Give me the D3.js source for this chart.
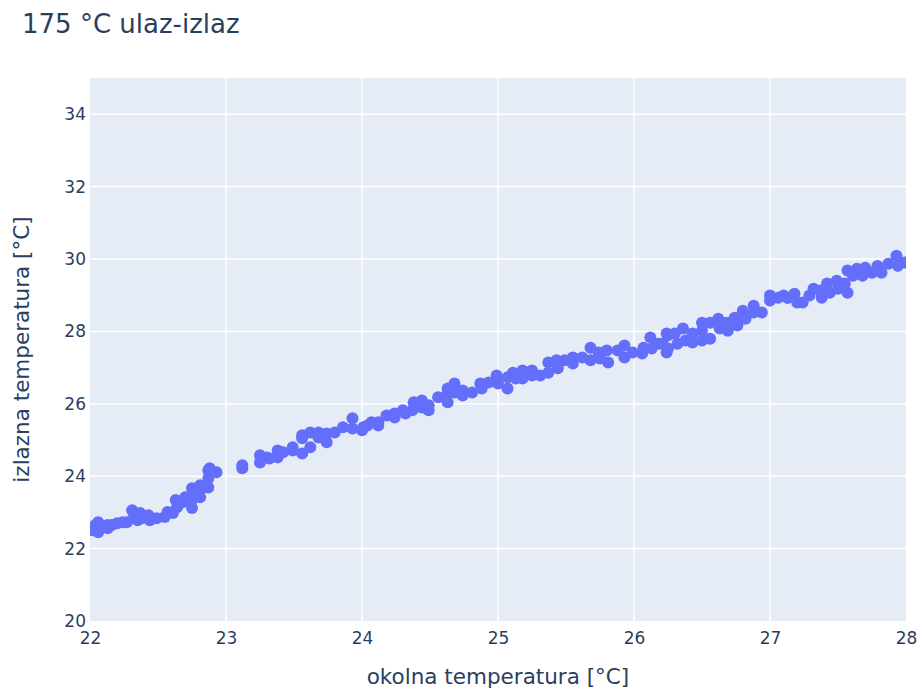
<!DOCTYPE html>
<html>
<head>
  <meta charset="utf-8">
  <script src="https://cdn.jsdelivr.net/npm/d3@7"></script>
  <style>
    body { margin: 0; background: #fff; }
    text { font-family: "DejaVu Sans", verdana, arial, sans-serif; fill: #2a3f5f; }
  </style>
</head>
<body>
<script>
  // okolna temperatura [°C]
  var tOkolna = [
    22.00, 22.02, 22.04, 22.06, 22.06, 22.10, 22.13, 22.13, 22.16, 22.20, 22.24, 22.27,
    22.31, 22.32, 22.35, 22.37, 22.38, 22.40, 22.43, 22.44, 22.49, 22.55, 22.57, 22.61,
    22.63, 22.64, 22.68, 22.70, 22.75, 22.75, 22.75, 22.77, 22.81, 22.81, 22.81, 22.87,
    22.87, 22.87, 22.88, 22.93,
    23.12, 23.12, 23.25, 23.25, 23.30, 23.32, 23.38, 23.38, 23.42, 23.49, 23.49, 23.56,
    23.56, 23.56, 23.62, 23.62, 23.68, 23.68, 23.74, 23.74, 23.80, 23.86, 23.93, 23.93,
    24.00, 24.01, 24.04, 24.07, 24.12,
    24.12, 24.18, 24.24, 24.24, 24.30, 24.32, 24.37, 24.38, 24.44, 24.44, 24.49, 24.49,
    24.56, 24.63, 24.63, 24.63, 24.68, 24.68, 24.74, 24.74, 24.81, 24.87, 24.88, 24.93,
    24.99, 25.00, 25.07, 25.07, 25.11, 25.13, 25.18,
    25.18, 25.18, 25.25, 25.25, 25.31, 25.37, 25.37, 25.43, 25.44, 25.49, 25.55, 25.55,
    25.62, 25.68, 25.68, 25.74, 25.75, 25.80, 25.81, 25.88, 25.93, 25.93, 25.99, 26.06,
    26.07, 26.12, 26.13, 26.18, 26.24, 26.24,
    26.21, 26.25, 26.25, 26.30, 26.32, 26.36, 26.38, 26.43, 26.43, 26.50, 26.50, 26.50,
    26.56, 26.56, 26.62, 26.63, 26.68, 26.69, 26.74, 26.76, 26.80, 26.82, 26.88, 26.88,
    26.94, 27.00, 27.00, 27.06, 27.13,
    27.10, 27.13, 27.18, 27.20, 27.24, 27.29, 27.32, 27.37, 27.38, 27.42, 27.44, 27.49,
    27.50, 27.55, 27.57, 27.57, 27.61, 27.64, 27.68, 27.70, 27.75, 27.79, 27.82, 27.87,
    27.93, 27.94, 27.99
  ];
  // izlazna temperatura [°C]
  var tIzlazna = [
    22.55, 22.51, 22.65, 22.73, 22.45, 22.59, 22.65, 22.56, 22.65, 22.70, 22.73, 22.73,
    23.06, 22.84, 22.78, 22.98, 22.84, 22.87, 22.92, 22.78, 22.84, 22.87, 23.01, 22.98,
    23.34, 23.14, 23.28, 23.42, 23.12, 23.34, 23.67, 23.53, 23.61, 23.42, 23.75, 23.69,
    23.94, 24.16, 24.22, 24.11,
    24.30, 24.22, 24.58, 24.38, 24.52, 24.49, 24.71, 24.52, 24.66, 24.71, 24.80, 25.13,
    25.05, 24.63, 25.21, 24.80, 25.21, 25.07, 25.18, 24.94, 25.21, 25.35, 25.60, 25.32,
    25.27, 25.35, 25.40, 25.49, 25.49,
    25.40, 25.68, 25.73, 25.62, 25.82, 25.73, 25.82, 26.04, 26.09, 25.90, 25.96, 25.82,
    26.18, 26.42, 26.29, 26.04, 26.56, 26.31, 26.37, 26.23, 26.31, 26.56, 26.42, 26.59,
    26.78, 26.56, 26.42, 26.73, 26.86, 26.70, 26.78,
    26.92, 26.70, 26.92, 26.78, 26.78, 27.14, 26.86, 27.20, 26.98, 27.20, 27.28, 27.11,
    27.28, 27.55, 27.20, 27.42, 27.25, 27.47, 27.14, 27.47, 27.61, 27.28, 27.42, 27.39,
    27.55, 27.83, 27.53, 27.66, 27.94, 27.42,
    27.66, 27.89, 27.53, 27.94, 27.66, 28.08, 27.75, 27.94, 27.69, 28.24, 28.02, 27.75,
    28.24, 27.80, 28.35, 28.08, 28.24, 28.02, 28.38, 28.16, 28.57, 28.35, 28.71, 28.52,
    28.52, 28.99, 28.85, 28.93, 28.93,
    28.99, 28.93, 29.04, 28.80, 28.80, 28.99, 29.18, 29.13, 28.93, 29.32, 29.07, 29.40,
    29.18, 29.32, 29.07, 29.68, 29.54, 29.73, 29.54, 29.76, 29.62, 29.81, 29.62, 29.87,
    30.09, 29.81, 29.90
  ];
  var xTicks = [22, 23, 24, 25, 26, 27, 28];
  var yTicks = [20, 22, 24, 26, 28, 30, 32, 34];

  var W = 922, H = 688;
  var m = {left: 90, right: 16, top: 78, bottom: 67};
  var pw = W - m.left - m.right, ph = H - m.top - m.bottom;

  var svg = d3.select("body").append("svg")
      .attr("width", W).attr("height", H);

  var x = d3.scaleLinear().domain([22, 28]).range([0, pw]);
  var y = d3.scaleLinear().domain([20, 35]).range([ph, 0]);

  var g = svg.append("g").attr("transform", "translate(" + m.left + "," + m.top + ")");

  g.append("rect").attr("width", pw).attr("height", ph).attr("fill", "#e5ecf6");

  g.append("defs").append("clipPath").attr("id", "clip")
    .append("rect").attr("width", pw).attr("height", ph);

  // grid
  g.append("g").selectAll("line").data(xTicks.filter(function(d){ return d > 22 && d < 28; }))
    .enter().append("line")
      .attr("x1", x).attr("x2", x).attr("y1", 0).attr("y2", ph)
      .attr("stroke", "#fff").attr("stroke-width", 1.5);
  g.append("g").selectAll("line").data(yTicks.filter(function(d){ return d > 20; }))
    .enter().append("line")
      .attr("y1", y).attr("y2", y).attr("x1", 0).attr("x2", pw)
      .attr("stroke", "#fff").attr("stroke-width", 1.5);

  // axes
  var xAxis = g.append("g").attr("transform", "translate(0," + ph + ")")
    .call(d3.axisBottom(x).tickValues(xTicks).tickFormat(d3.format("d")).tickSize(0).tickPadding(11));
  var yAxis = g.append("g")
    .call(d3.axisLeft(y).tickValues(yTicks).tickFormat(d3.format("d")).tickSize(0).tickPadding(4));
  [xAxis, yAxis].forEach(function(a) {
    a.select(".domain").remove();
    a.selectAll("text").attr("font-size", 17).attr("fill", "#2a3f5f")
      .style("font-family", '"DejaVu Sans", verdana, arial, sans-serif');
  });

  // points
  var pts = tOkolna.map(function(d, i) { return [d, tIzlazna[i]]; });
  g.append("g").attr("clip-path", "url(#clip)")
    .selectAll("circle").data(pts).enter().append("circle")
      .attr("cx", function(d) { return x(d[0]); })
      .attr("cy", function(d) { return y(d[1]); })
      .attr("r", 6)
      .attr("fill", "#636efa");

  // titles
  svg.append("text").attr("x", 22).attr("y", 33)
    .attr("font-size", 26).text("175 °C ulaz-izlaz");
  svg.append("text").attr("x", m.left + pw / 2).attr("y", 684)
    .attr("text-anchor", "middle").attr("font-size", 21.5).text("okolna temperatura [°C]");
  svg.append("text")
    .attr("transform", "translate(29," + (m.top + ph / 2) + ") rotate(-90)")
    .attr("text-anchor", "middle").attr("font-size", 21.5).text("izlazna temperatura [°C]");
</script>
</body>
</html>
